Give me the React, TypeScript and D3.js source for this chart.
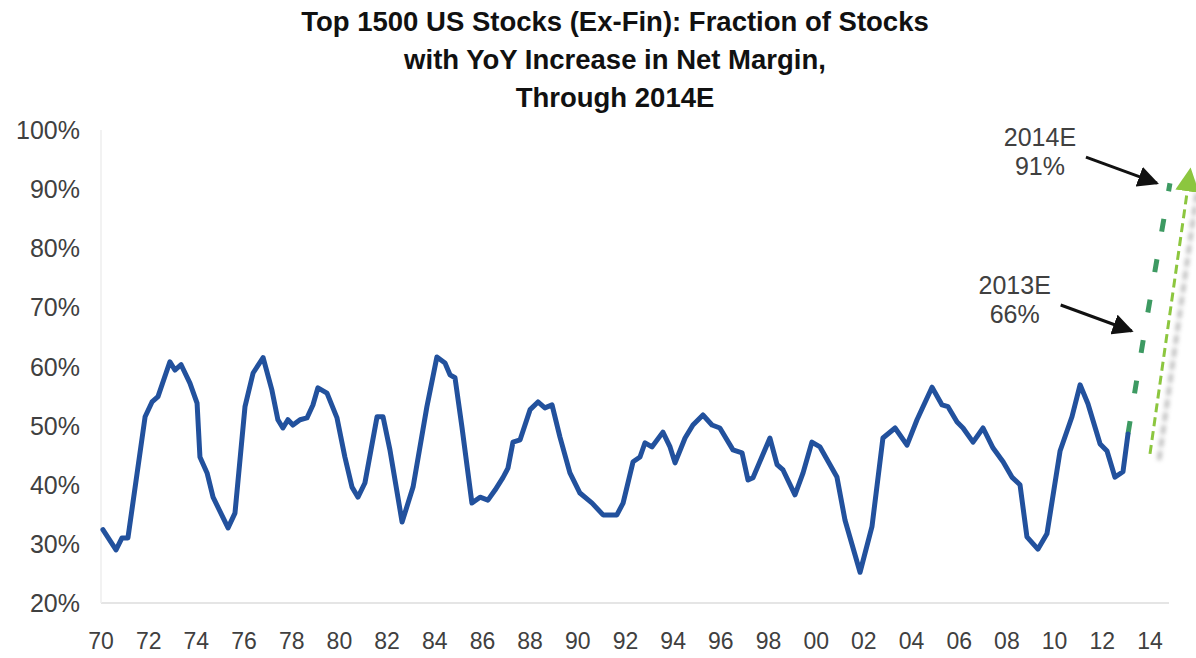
import * as d3 from 'd3';

// ---------------------------------------------------------------------------
// Data
// ---------------------------------------------------------------------------
const TITLE_LINES = [
  'Top 1500 US Stocks (Ex-Fin): Fraction of Stocks',
  'with YoY Increase in Net Margin,',
  'Through 2014E',
];

// [year, % of stocks with YoY net-margin increase]
const HISTORY: [number, number][] = [
  [1970.08, 32.4], [1970.63, 29.0], [1970.88, 31.0], [1971.13, 31.0], [1971.85, 51.5],
  [1972.14, 54.0], [1972.39, 54.9], [1972.89, 60.8], [1973.1, 59.4], [1973.36, 60.3],
  [1973.73, 57.2], [1974.03, 53.8], [1974.15, 44.7], [1974.45, 42.0], [1974.7, 37.9],
  [1975.33, 32.7], [1975.62, 35.2], [1976.04, 53.2], [1976.38, 58.9], [1976.8, 61.5],
  [1977.17, 56.0], [1977.42, 51.0], [1977.63, 49.6], [1977.84, 51.0], [1978.05, 50.1],
  [1978.35, 51.0], [1978.64, 51.3], [1978.89, 53.5], [1979.1, 56.4], [1979.48, 55.5],
  [1979.9, 51.3], [1980.23, 44.7], [1980.53, 39.6], [1980.78, 37.9], [1981.07, 40.3],
  [1981.58, 51.5], [1981.83, 51.5], [1982.12, 45.9], [1982.63, 33.7], [1983.09, 39.6],
  [1983.67, 53.2], [1984.09, 61.6], [1984.43, 60.6], [1984.64, 58.6], [1984.85, 58.1],
  [1985.14, 49.8], [1985.56, 36.9], [1985.9, 37.9], [1986.23, 37.4], [1986.53, 39.1],
  [1986.86, 41.2], [1987.07, 42.8], [1987.28, 47.2], [1987.58, 47.6], [1988.0, 52.7],
  [1988.33, 54.0], [1988.62, 53.0], [1988.92, 53.5], [1989.25, 48.1], [1989.67, 42.0],
  [1990.09, 38.6], [1990.6, 36.9], [1991.06, 34.9], [1991.64, 34.9], [1991.9, 36.9],
  [1992.32, 43.9], [1992.61, 44.7], [1992.82, 47.1], [1993.11, 46.4], [1993.57, 48.9],
  [1993.87, 46.4], [1994.08, 43.7], [1994.5, 47.9], [1994.83, 50.1], [1995.25, 51.8],
  [1995.63, 50.1], [1995.96, 49.6], [1996.51, 45.9], [1996.89, 45.4], [1997.14, 40.8],
  [1997.35, 41.2], [1998.06, 47.9], [1998.36, 43.4], [1998.61, 42.5], [1999.11, 38.3],
  [1999.45, 42.0], [1999.82, 47.2], [2000.16, 46.4], [2000.87, 41.3], [2001.21, 34.0],
  [2001.84, 25.2], [2002.34, 32.9], [2002.8, 47.9], [2003.31, 49.6], [2003.81, 46.7],
  [2004.23, 51.0], [2004.86, 56.5], [2005.28, 53.5], [2005.53, 53.2], [2005.91, 50.6],
  [2006.16, 49.6], [2006.58, 47.2], [2007.0, 49.6], [2007.42, 46.2], [2007.84, 43.9],
  [2008.21, 41.3], [2008.55, 40.0], [2008.84, 31.2], [2009.3, 29.1], [2009.68, 31.7],
  [2010.23, 45.7], [2010.73, 51.5], [2011.07, 56.9], [2011.4, 53.7], [2011.91, 46.9],
  [2012.2, 45.7], [2012.53, 41.3], [2012.87, 42.2], [2013.08, 48.6],
];

// projection: last actual -> 2013E -> 2014E
const PROJECTION: [number, number][] = [
  [2013.08, 48.6],
  [2013.78, 66],
  [2014.84, 91],
];

const ANNOTATIONS = [
  { point: PROJECTION[2], lines: ['2014E', '91%'] },
  { point: PROJECTION[1], lines: ['2013E', '66%'] },
];

const Y_TICKS = [20, 30, 40, 50, 60, 70, 80, 90, 100];
const X_TICKS = d3.range(1970, 2015, 2);

// ---------------------------------------------------------------------------
// Styling
// ---------------------------------------------------------------------------
const W = 1196;
const H = 658;
const FONT = '"Liberation Sans", Arial, sans-serif';
const BLUE = '#22519d';
const DARK_GREEN = '#3d9a62';
const LIGHT_GREEN = '#8cc63f';
const TEXT = '#404040';
const AXIS = '#dcdcdc';

export default function App() {
  const x = d3.scaleLinear().domain([1970, 2014.8]).range([101, 1169]);
  const y = d3.scaleLinear().domain([20, 100]).range([603, 130]);

  const line = d3
    .line<[number, number]>()
    .x((d) => x(d[0]))
    .y((d) => y(d[1]));

  const start = PROJECTION[0];
  const end = PROJECTION[PROJECTION.length - 1];
  // green trend arrow, drawn just right of the projection (pixel space)
  const trend: [number, number][] = [
    [x(start[0]) + 22, y(start[1]) + 20],
    [x(end[0]) + 20, y(end[1]) - 11],
  ];
  const trendPath = d3.line()(trend) ?? '';

  return (
    <svg
      width={W}
      height={H}
      style={{ position: 'absolute', left: 0, top: 0, background: '#fff' }}
      fontFamily={FONT}
    >
      <defs>
        <marker id="blackHead" viewBox="0 0 10 10" refX="9" refY="5" markerWidth="7" markerHeight="7"
          markerUnits="strokeWidth" orient="auto">
          <path d="M0,0 L10,5 L0,10 z" fill="#111" />
        </marker>
        <marker id="greenHead" viewBox="0 0 10 10" refX="8" refY="5" markerWidth="8" markerHeight="8"
          markerUnits="strokeWidth" orient="auto">
          <path d="M0,0 L10,5 L0,10 z" fill={LIGHT_GREEN} />
        </marker>
        <filter id="blur" x="-50%" y="-50%" width="200%" height="200%">
          <feGaussianBlur stdDeviation="2" />
        </filter>
      </defs>

      {/* Title */}
      {TITLE_LINES.map((t, i) => (
        <text key={t} x={615} y={31 + i * 38} textAnchor="middle" fontSize={27.5} fontWeight="bold" fill="#111">
          {t}
        </text>
      ))}

      {/* Axes */}
      <line x1={x.range()[0]} x2={x.range()[1]} y1={y(20)} y2={y(20)} stroke={AXIS} strokeWidth={1.5} />
      <line x1={x.range()[0]} x2={x.range()[0]} y1={y(100)} y2={y(20)} stroke="#eeeeee" strokeWidth={1.5} />

      {Y_TICKS.map((v) => (
        <text key={v} x={80} y={y(v)} textAnchor="end" dominantBaseline="central" fontSize={25} fill={TEXT}>
          {v}%
        </text>
      ))}
      {X_TICKS.map((yr) => (
        <text key={yr} x={x(yr)} y={641} textAnchor="middle" dominantBaseline="central" fontSize={23} fill={TEXT}>
          {String(yr % 100).padStart(2, '0')}
        </text>
      ))}

      {/* Trend arrow shadow + arrow */}
      <path
        d={trendPath}
        transform="translate(9,6)"
        stroke="#9a9a9a"
        strokeWidth={4}
        strokeDasharray="9 4"
        fill="none"
        opacity={0.7}
        filter="url(#blur)"
      />
      <path
        d={trendPath}
        stroke={LIGHT_GREEN}
        strokeWidth={3}
        strokeDasharray="9 5"
        fill="none"
        markerEnd="url(#greenHead)"
      />

      {/* Projection */}
      <path d={line(PROJECTION) ?? ''} stroke={DARK_GREEN} strokeWidth={5} strokeDasharray="13 28" fill="none" />

      {/* History */}
      <path
        d={line(HISTORY) ?? ''}
        stroke={BLUE}
        strokeWidth={5}
        strokeLinejoin="round"
        strokeLinecap="round"
        fill="none"
      />

      {/* Annotations */}
      {ANNOTATIONS.map((a) => {
        const px = x(a.point[0]);
        const py = y(a.point[1]);
        return (
          <g key={a.lines[0]}>
            <line
              x1={px - 84}
              y1={py - 26}
              x2={px - 13}
              y2={py}
              stroke="#111"
              strokeWidth={3}
              markerEnd="url(#blackHead)"
            />
            {a.lines.map((t, i) => (
              <text
                key={t}
                x={px - 130}
                y={py - 46 + i * 29}
                textAnchor="middle"
                dominantBaseline="central"
                fontSize={25}
                fill={TEXT}
              >
                {t}
              </text>
            ))}
          </g>
        );
      })}
    </svg>
  );
}
